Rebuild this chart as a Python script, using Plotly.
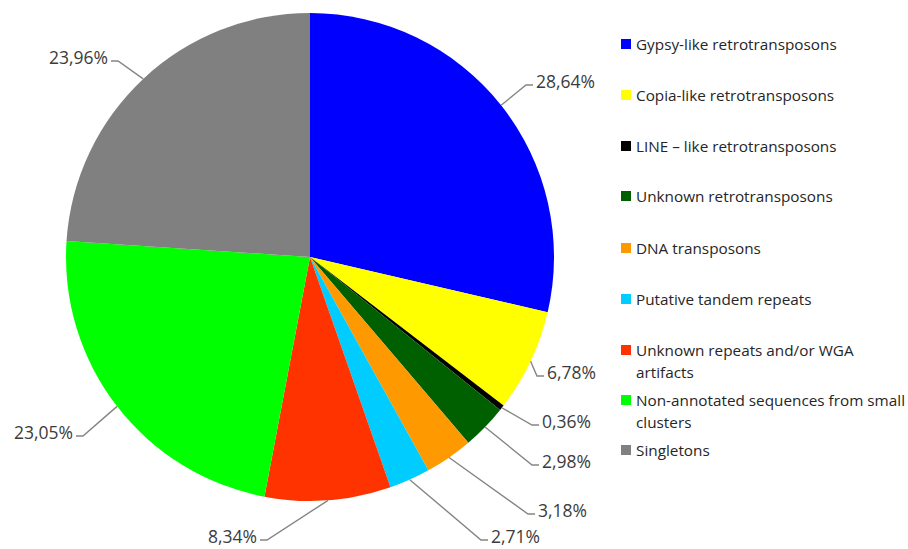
import math
import plotly.graph_objects as go

# Composition of the repeat fractions (percent of reads)
categories = [
    "Gypsy-like retrotransposons",
    "Copia-like retrotransposons",
    "LINE \u2013 like retrotransposons",
    "Unknown retrotransposons",
    "DNA transposons",
    "Putative tandem repeats",
    "Unknown repeats and/or WGA artifacts",
    "Non-annotated sequences from small clusters",
    "Singletons",
]
values = [28.64, 6.78, 0.36, 2.98, 3.18, 2.71, 8.34, 23.05, 23.96]
colors = ["#0000FF", "#FFFF00", "#000000", "#006000", "#FF9900",
          "#00CCFF", "#FF3300", "#00FF00", "#808080"]

# legend wrapping (how each entry breaks across lines)
legend_lines = [
    ["Gypsy-like retrotransposons"],
    ["Copia-like retrotransposons"],
    ["LINE \u2013 like retrotransposons"],
    ["Unknown retrotransposons"],
    ["DNA transposons"],
    ["Putative tandem repeats"],
    ["Unknown repeats and/or WGA", "artifacts"],
    ["Non-annotated sequences from small", "clusters"],
    ["Singletons"],
]

W, H = 908, 549
CX, CY, R = 310, 257, 244

# where each percentage label sits: elbow of the leader line (px) and side
label_elbow = [
    (526, 85, "r"), (537, 376, "r"), (532, 425, "r"), (532, 465, "r"),
    (528, 514, "r"), (481, 540, "r"), (267, 540, "l"), (83, 436, "l"),
    (118, 61, "l"),
]

def px(x, y):
    return x / W, 1 - y / H

fig = go.Figure(go.Pie(
    labels=categories,
    values=values,
    marker=dict(colors=colors, line=dict(width=0)),
    sort=False,
    direction="clockwise",
    rotation=0,
    textinfo="none",
    hoverinfo="label+percent",
    showlegend=False,
    domain=dict(x=[(CX - R) / W, (CX + R) / W],
                y=[1 - (CY + R) / H, 1 - (CY - R) / H]),
))

shapes = []
annotations = []
total = sum(values)
cum = 0.0
for v, (ex, ey, side) in zip(values, label_elbow):
    mid = (cum + v / 2) / total * 2 * math.pi
    cum += v
    sx = CX + R * math.sin(mid)
    sy = CY - R * math.cos(mid)
    tick = 7 if side == "r" else -7
    tx = ex + tick
    p0, p1, p2 = px(sx, sy), px(ex, ey), px(tx, ey)
    shapes.append(dict(
        type="path", xref="paper", yref="paper",
        path=f"M {p0[0]} {p0[1]} L {p1[0]} {p1[1]} L {p2[0]} {p2[1]}",
        line=dict(color="#858585", width=1.4),
    ))
    ax, ay = px(tx + (1 if side == "r" else -1), ey - 4)
    annotations.append(dict(
        x=ax, y=ay, xref="paper", yref="paper", showarrow=False,
        text=f"{v:.2f}".replace(".", ",") + "%",
        xanchor="left" if side == "r" else "right", yanchor="middle",
        font=dict(family="Open Sans", size=17.5, color="#3c3c3c"),
    ))

# legend drawn beside the pie
legend_y = [44, 95, 146, 196, 248, 299, 350, 400, 450]
for col, lines, ly in zip(colors, legend_lines, legend_y):
    x0, y0 = px(621, ly - 5)
    x1, y1 = px(631, ly + 5)
    shapes.append(dict(type="rect", xref="paper", yref="paper",
                       x0=x0, y0=y1, x1=x1, y1=y0,
                       fillcolor=col, line=dict(width=0)))
    for k, line in enumerate(lines):
        tx, ty = px(634, ly + 22 * k)
        annotations.append(dict(
            x=tx, y=ty, xref="paper", yref="paper", showarrow=False,
            text=line, xanchor="left", yanchor="middle",
            font=dict(family="Open Sans", size=15.3, color="#262626"),
        ))

fig.update_layout(
    width=W, height=H,
    margin=dict(l=0, r=0, t=0, b=0),
    paper_bgcolor="white",
    plot_bgcolor="white",
    shapes=shapes,
    annotations=annotations,
)

fig.write_html("out.html")
